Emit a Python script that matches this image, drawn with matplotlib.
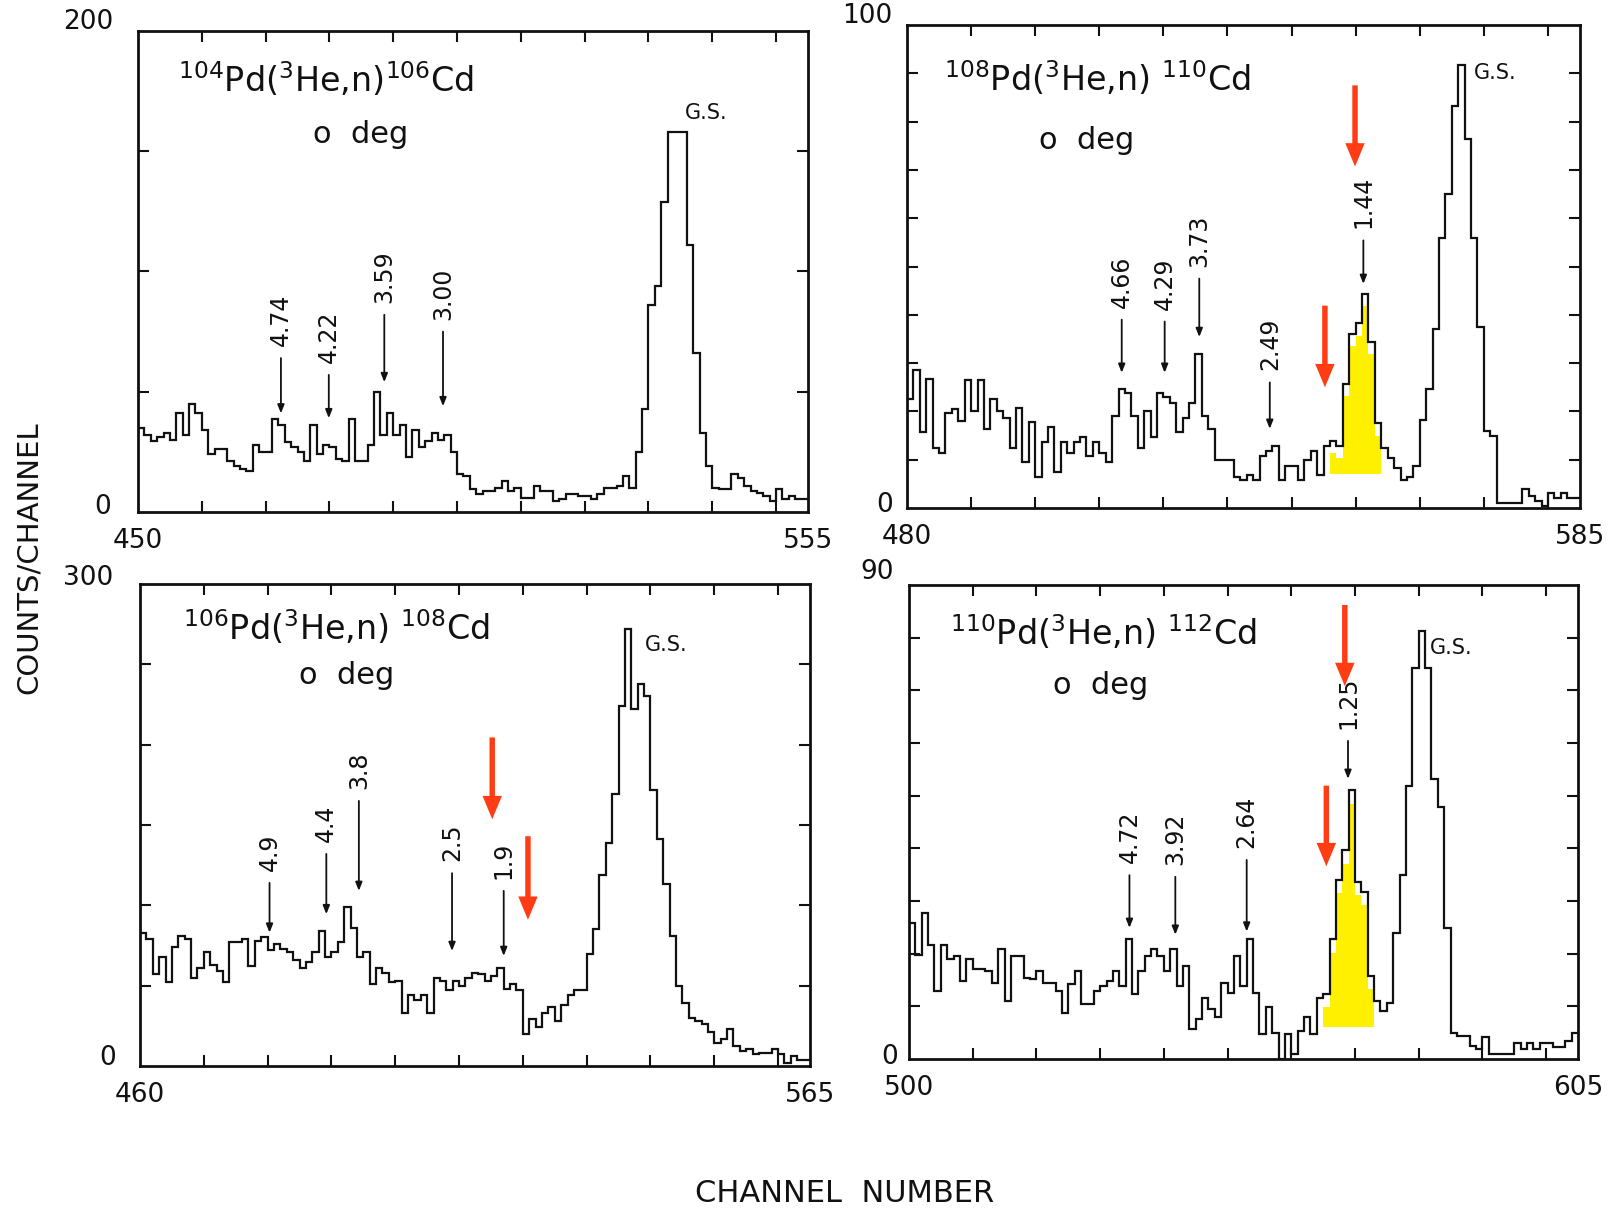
import numpy as np
import matplotlib.pyplot as plt

# counts per channel (105 channels each)
cd106_counts = [35, 32, 29.5, 31, 33, 30, 41, 32, 45, 41,
                34, 24, 26, 26, 21, 19, 18, 17, 28, 25,
                25, 38.5, 36, 29, 27, 25, 21, 36, 24, 28,
                27, 22, 21, 38.5, 21, 21, 28, 50, 32, 41,
                32, 36, 23, 34, 27, 29.5, 33, 30, 32, 25,
                16, 15, 9.4, 7.3, 8.7, 8.7, 10, 13, 8.7, 10,
                6, 6, 11, 8.7, 8.7, 4.6, 5.3, 7.3, 7.3, 6.7,
                6.7, 5.3, 7.3, 10, 10, 11, 15, 10, 25, 43,
                86, 94, 129, 158, 158, 158, 111, 66, 33, 19,
                10, 9.4, 9.4, 16, 14, 11, 8.7, 8, 6.7, 4.6,
                9.4, 5.3, 6.7, 5.3, 5.3]

cd110_counts = [22.5, 28.6, 15.7, 26.8, 12.5, 11.4, 19.6, 20.4, 18, 26.4,
                20, 26.4, 16.4, 22.5, 20, 18.6, 12.5, 20.7, 9.6, 17.9,
                6.4, 13.6, 16.8, 7.5, 13.6, 11.4, 13.6, 14.6, 10.7, 13.6,
                11.4, 9.6, 19, 24.6, 23.9, 19, 12.5, 20, 14.6, 23.9,
                22.9, 21.8, 15.7, 18.6, 21.8, 31.8, 19, 16.4, 10, 10,
                10, 6.4, 5.7, 6.8, 5.7, 10.7, 11.8, 12.9, 5.7, 8.6,
                8.6, 5.7, 10, 11.8, 6.8, 12.9, 13.9, 12.9, 25.7, 36,
                38.2, 44.3, 34.3, 17.5, 12.5, 10.4, 8.2, 5.7, 6.4, 8.6,
                18.2, 24.6, 37.1, 56, 65, 83.2, 91.8, 76.4, 56, 37.5,
                16, 15, 1.1, 1.1, 1.1, 1.1, 3.9, 2.5, 1.4, 0.4,
                3.2, 2.1, 3.2, 2.1, 2.1]

cd108_counts = [83, 79, 57, 68, 52, 74, 81, 79, 55, 61,
                71, 63, 59, 52, 77, 77, 79, 62, 78, 80,
                72, 76, 73, 71, 66, 61, 65, 71, 84, 68,
                71, 77, 99, 86, 68, 71, 51, 61, 58, 52,
                53, 33, 44, 41, 44, 33, 55, 53, 47, 53,
                50, 55, 58, 57, 53, 56, 61, 48, 51, 47,
                20, 29, 24, 33, 37, 28, 38, 44, 47, 47,
                70, 85, 119, 139, 169, 224, 272, 222, 238, 230,
                172, 141, 113, 81, 50, 39, 30, 28, 26, 21,
                14.5, 16.6, 23, 12.5, 9.3, 10.4, 7.3, 8.3, 8.3, 10.4,
                7.3, 2, 6.2, 4, 4]

cd112_counts = [25.8, 19.8, 27.7, 21.7, 12.9, 21.7, 18.9, 19.5, 14.8, 18.9,
                17, 17, 16.7, 14.5, 20.8, 11, 19.5, 19.5, 15.4, 15.1,
                16.7, 14.5, 14.5, 12.9, 8.8, 14.2, 16.7, 10.4, 10.4, 12.9,
                13.8, 14.8, 16.7, 13.8, 22.7, 12.3, 16.7, 19.5, 20.8, 19.5,
                16.7, 20.8, 13.8, 17.6, 5.7, 7.6, 11.6, 9.4, 7.9, 14.5,
                12.6, 19.5, 13.8, 22.7, 12.6, 4.7, 9.8, 5, 0, 4.7,
                0.9, 5.3, 7.9, 4.7, 11.6, 12.3, 22.7, 34, 39.6, 51,
                33.7, 31.8, 15.7, 11, 9.1, 10.7, 23.9, 34.9, 51.9, 74.3,
                81.2, 74.3, 53.2, 47.8, 24.9, 5, 4.4, 4.4, 2.5, 1.9,
                4.1, 0.9, 0.9, 0.9, 0.9, 3.1, 1.9, 3.1, 1.9, 3.1,
                3.1, 2.2, 2.2, 3.5, 5]

# first channel and count range of each spectrum
start_channels = [450, 480, 460, 500]
y_maxes = [200, 100, 300, 90]
y_steps = [50, 10, 50, 10]

titles = [r'$^{104}$Pd($^{3}$He,n)$^{106}$Cd',
          r'$^{108}$Pd($^{3}$He,n) $^{110}$Cd',
          r'$^{106}$Pd($^{3}$He,n) $^{108}$Cd',
          r'$^{110}$Pd($^{3}$He,n) $^{112}$Cd']

# excitation energies marked with small arrows: label, channel, tip, top of line
levels_106 = ['4.74', '4.22', '3.59', '3.00']
lvl_x_106 = [472.4, 479.9, 488.6, 497.8]
lvl_tip_106 = [41, 39, 54, 44]
lvl_top_106 = [64, 57, 82, 75]

levels_110 = ['4.66', '4.29', '3.73', '2.49', '1.44']
lvl_x_110 = [513.5, 520.2, 525.6, 536.6, 551.2]
lvl_tip_110 = [28, 28, 35.4, 16.4, 46.4]
lvl_top_110 = [39, 38.6, 47.5, 26, 55.4]

levels_108 = ['4.9', '4.4', '3.8', '2.5', '1.9']
lvl_x_108 = [480.3, 489.2, 494.3, 508.9, 517]
lvl_tip_108 = [83, 94.5, 109, 71.6, 68.5]
lvl_top_108 = [114, 132, 165, 120, 109]

levels_112 = ['4.72', '3.92', '2.64', '1.25']
lvl_x_112 = [534.6, 541.8, 553, 568.9]
lvl_tip_112 = [24.9, 23.6, 24.2, 53.2]
lvl_top_112 = [34.9, 34.6, 37.8, 60.4]

# red arrows added on top: channel, start count, end count
red_x_110 = [549.9, 545.2]
red_from_110 = [87.5, 41.9]
red_to_110 = [70.7, 25]
red_x_108 = [515.2, 520.8]
red_from_108 = [204.5, 143]
red_to_108 = [153.6, 91]
red_x_112 = [568.4, 565.5]
red_from_112 = [86.2, 51.9]
red_to_112 = [70.8, 36.6]

# yellow highlighted peaks: first / last channel and floor
yellow_110 = (546, 554, 7)
yellow_112 = (565, 573, 6)

# text anchors (data coords)
title_xy = [(456.3, 180), (485.7, 89), (466.8, 273), (506.5, 81)]
deg_xy = [(484.9, 157), (508, 76), (492.4, 243), (530, 71)]
gs_xy = [(535.7, 166), (568.5, 90), (539.2, 262), (581.7, 78)]

RED = '#ff3c14'
YELLOW = '#fff000'
INK = '#111111'

W, H = 1612, 1208
fig = plt.figure(figsize=(W / 100, H / 100), dpi=100)

# axes frames in pixels: left, top, right, bottom
frames = [(138, 31, 808, 512), (907, 25, 1580, 508),
          (140, 584, 810, 1066), (909, 585, 1578, 1059)]
# pixel offsets of corner labels: (ymax label), (zero label)
ylab_off = [((-50, 9), (-35, 5)), ((-40, 9), (-22, 3)),
            ((-52, 6), (-32, 8)), ((-32, 13), (-19, 2))]

all_counts = [cd106_counts, cd110_counts, cd108_counts, cd112_counts]
all_levels = [(levels_106, lvl_x_106, lvl_tip_106, lvl_top_106),
              (levels_110, lvl_x_110, lvl_tip_110, lvl_top_110),
              (levels_108, lvl_x_108, lvl_tip_108, lvl_top_108),
              (levels_112, lvl_x_112, lvl_tip_112, lvl_top_112)]
all_red = [None, (red_x_110, red_from_110, red_to_110),
           (red_x_108, red_from_108, red_to_108),
           (red_x_112, red_from_112, red_to_112)]
all_yellow = [None, yellow_110, None, yellow_112]

for i in range(4):
    l, t, r, b = frames[i]
    ax = fig.add_axes([l / W, 1 - b / H, (r - l) / W, (b - t) / H])
    counts = np.array(all_counts[i], dtype=float)
    x0 = start_channels[i]
    edges = np.arange(x0, x0 + len(counts) + 1)
    x1 = edges[-1]

    # yellow marker under the peak
    if all_yellow[i] is not None:
        a, c, floor = all_yellow[i]
        xs = np.arange(a, c + 1)
        vals = counts[a - x0:c - x0] - 2.5
        vals = np.append(vals, vals[-1])
        ax.fill_between(xs, floor, vals, step='post', color=YELLOW,
                        lw=0, zorder=1)

    ax.stairs(counts, edges, baseline=None, color=INK, lw=1.6, zorder=2)

    ax.set_xlim(x0, x1)
    ax.set_ylim(0, y_maxes[i])
    ax.set_xticks(np.arange(x0 + 10, x1, 10))
    ax.set_yticks(np.arange(y_steps[i], y_maxes[i], y_steps[i]))
    ax.tick_params(direction='in', length=8, width=1.5, color=INK,
                   top=True, right=True, labelbottom=False, labelleft=False)
    for s in ax.spines.values():
        s.set_linewidth(2.0)
        s.set_color(INK)

    # corner numbers instead of tick labels
    kw = dict(textcoords='offset pixels', ha='center', va='center',
              fontsize=19, color=INK)
    ax.annotate(str(x0), xy=(x0, 0), xytext=(0, -29), **kw)
    ax.annotate(str(x1), xy=(x1, 0), xytext=(0, -29), **kw)
    ax.annotate(str(y_maxes[i]), xy=(x0, y_maxes[i]), xytext=ylab_off[i][0], **kw)
    ax.annotate('0', xy=(x0, 0), xytext=ylab_off[i][1], **kw)

    ax.text(*title_xy[i], titles[i], fontsize=24, ha='left', va='center', color=INK)
    ax.text(*deg_xy[i], 'o  deg', fontsize=22, ha='center', va='center', color=INK)
    ax.text(*gs_xy[i], 'G.S.', fontsize=15, ha='left', va='center', color=INK)

    # level markers
    labels, lx, ltip, ltop = all_levels[i]
    for lab, x, tip, top in zip(labels, lx, ltip, ltop):
        ax.annotate('', xy=(x, tip), xytext=(x, top),
                    arrowprops=dict(arrowstyle='-|>,head_length=0.5,head_width=0.2',
                                    color=INK, lw=1.3, mutation_scale=10,
                                    shrinkA=0, shrinkB=0))
        ax.annotate(lab, xy=(x, top), xytext=(0, 12), textcoords='offset pixels',
                    rotation=90, ha='center', va='bottom', fontsize=17, color=INK)

    if all_red[i] is not None:
        for x, y_from, y_to in zip(*all_red[i]):
            ax.annotate('', xy=(x, y_to), xytext=(x, y_from),
                        arrowprops=dict(arrowstyle='simple,head_width=1.0,head_length=1.2,tail_width=0.28',
                                        color=RED, lw=0, mutation_scale=14,
                                        shrinkA=0, shrinkB=0), zorder=5)

fig.text(29 / W, 1 - 558 / H, 'COUNTS/CHANNEL', rotation=90, ha='center',
         va='center', fontsize=21, color=INK)
fig.text(845 / W, 1 - 1193 / H, 'CHANNEL  NUMBER', ha='center', va='center',
         fontsize=22, color=INK)

fig.savefig('out.png', dpi=100, facecolor='white')
